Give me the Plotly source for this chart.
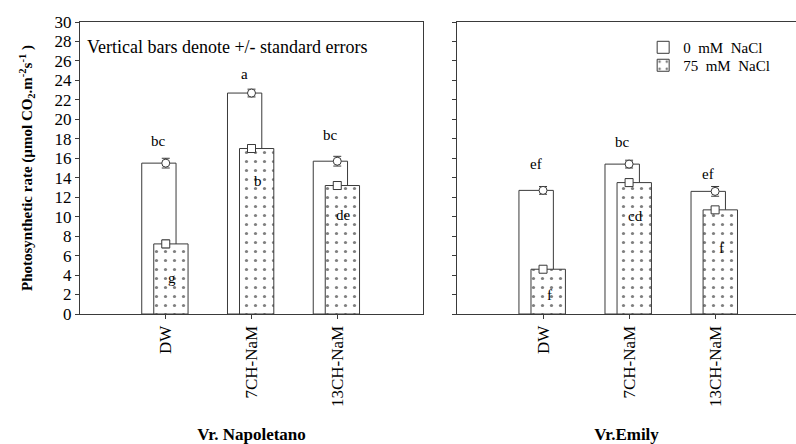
import plotly.graph_objects as go

categories = ["DW", "7CH-NaM", "13CH-NaM"]
# Vr. Napoletano
nap_0 = [15.5, 22.7, 15.7]
nap_0_se = [0.5, 0.4, 0.5]
nap_75 = [7.2, 17.0, 13.2]
nap_75_se = [0.4, 0.4, 0.4]
nap_0_letters = ["bc", "a", "bc"]
nap_75_letters = ["g", "b", "de"]
nap_0_lpos = [17.8, 24.7, 18.4]
nap_75_lpos = [3.7, 13.7, 10.2]
# Vr. Emily
emi_0 = [12.7, 15.4, 12.6]
emi_0_se = [0.4, 0.4, 0.5]
emi_75 = [4.6, 13.5, 10.7]
emi_75_se = [0.3, 0.4, 0.3]
emi_0_letters = ["ef", "bc", "ef"]
emi_75_letters = ["f", "cd", "f"]
emi_0_lpos = [15.4, 17.7, 14.4]
emi_75_lpos = [2.0, 10.1, 6.8]
y_ticks = list(range(0, 31, 2))

LINE = "#3a3a3a"
FONT = "Liberation Serif"
W = 0.4
OFF0, OFF75 = -0.28, -0.14

fig = go.Figure()

def panel(v0, s0, v75, s75, l0, l75, p0, p75, xa, ya, legend):
    fig.add_trace(go.Bar(x=categories, y=v0, width=W, offset=OFF0, name="0  mM  NaCl",
                         marker=dict(color="white", line=dict(color=LINE, width=1)),
                         xaxis=xa, yaxis=ya, showlegend=legend, legend="legend"))
    fig.add_trace(go.Bar(x=categories, y=v75, width=W, offset=OFF75, name="75  mM  NaCl",
                         marker=dict(color="white", line=dict(color=LINE, width=1),
                                     pattern=dict(shape=".", fgcolor="black", bgcolor="white",
                                                  size=9, solidity=0.1)),
                         xaxis=xa, yaxis=ya, showlegend=legend, legend="legend2"))
    fig.add_trace(go.Scatter(x=categories, y=v0, mode="markers", showlegend=False,
                             marker=dict(symbol="circle", size=8, color="white", line=dict(width=1, color=LINE)),
                             error_y=dict(type="data", array=s0, color=LINE, thickness=1, width=4),
                             xaxis=xa, yaxis=ya))
    fig.add_trace(go.Scatter(x=categories, y=v75, mode="markers", showlegend=False,
                             marker=dict(symbol="square", size=8, color="white", line=dict(width=1, color=LINE)),
                             error_y=dict(type="data", array=s75, color=LINE, thickness=1, width=4),
                             xaxis=xa, yaxis=ya))
    for c, t, p in zip(categories, l0, p0):
        fig.add_annotation(x=c, y=p, text=t, xref=xa, yref=ya, xshift=-7, showarrow=False,
                           font=dict(family=FONT, size=15, color="black"))
    for c, t, p in zip(categories, l75, p75):
        fig.add_annotation(x=c, y=p, text=t, xref=xa, yref=ya, xshift=6, showarrow=False,
                           font=dict(family=FONT, size=15, color="black"))

panel(nap_0, nap_0_se, nap_75, nap_75_se, nap_0_letters, nap_75_letters, nap_0_lpos, nap_75_lpos, "x", "y", True)
panel(emi_0, emi_0_se, emi_75, emi_75_se, emi_0_letters, emi_75_letters, emi_0_lpos, emi_75_lpos, "x2", "y2", False)

axis_common = dict(showline=True, linecolor=LINE, linewidth=1, mirror=True, showgrid=False,
                   zeroline=False, ticks="outside", ticklen=4, tickcolor=LINE,
                   tickfont=dict(family=FONT, size=17, color="black"))

legend_common = dict(x=0.808, xanchor="left", yanchor="top", bgcolor="rgba(0,0,0,0)",
                     font=dict(family=FONT, size=15, color="black"), itemwidth=30)

fig.update_layout(
    width=796, height=444, plot_bgcolor="white", paper_bgcolor="white",
    margin=dict(l=0, r=0, t=22, b=130),
    barmode="overlay",
    xaxis=dict(domain=[80/796, 423/796], range=[-1, 3], tickangle=-90, **axis_common,
               title=dict(text="<b>Vr. Napoletano</b>", font=dict(family=FONT, size=17, color="black"), standoff=22)),
    xaxis2=dict(domain=[457/796, 1.0], range=[-1, 2.94], tickangle=-90, anchor="y2", **axis_common,
                title=dict(text="<b>Vr.Emily</b>", font=dict(family=FONT, size=17, color="black"), standoff=22)),
    yaxis=dict(range=[0, 30], tickvals=y_ticks, **axis_common,
               title=dict(text="<b>Photosynthetic rate (µmol CO<sub>2</sub>.m<sup>-2</sup>s<sup>-1</sup> )</b>",
                          font=dict(family=FONT, size=15, color="black"), standoff=18)),
    yaxis2=dict(range=[0, 30], tickvals=y_ticks, showticklabels=False, anchor="x2", **axis_common),
    legend=dict(y=0.969, **legend_common),
    legend2=dict(y=0.9075, **legend_common),
    showlegend=True,
)
fig.add_annotation(text="Vertical bars denote +/- standard errors", xref="x domain", yref="y domain",
                   x=0.015, y=0.915, xanchor="left", yanchor="middle", showarrow=False,
                   font=dict(family=FONT, size=18, color="black"))

fig.write_html("out.html", post_script="document.body.style.margin='0px';",
               config={"displayModeBar": False})
